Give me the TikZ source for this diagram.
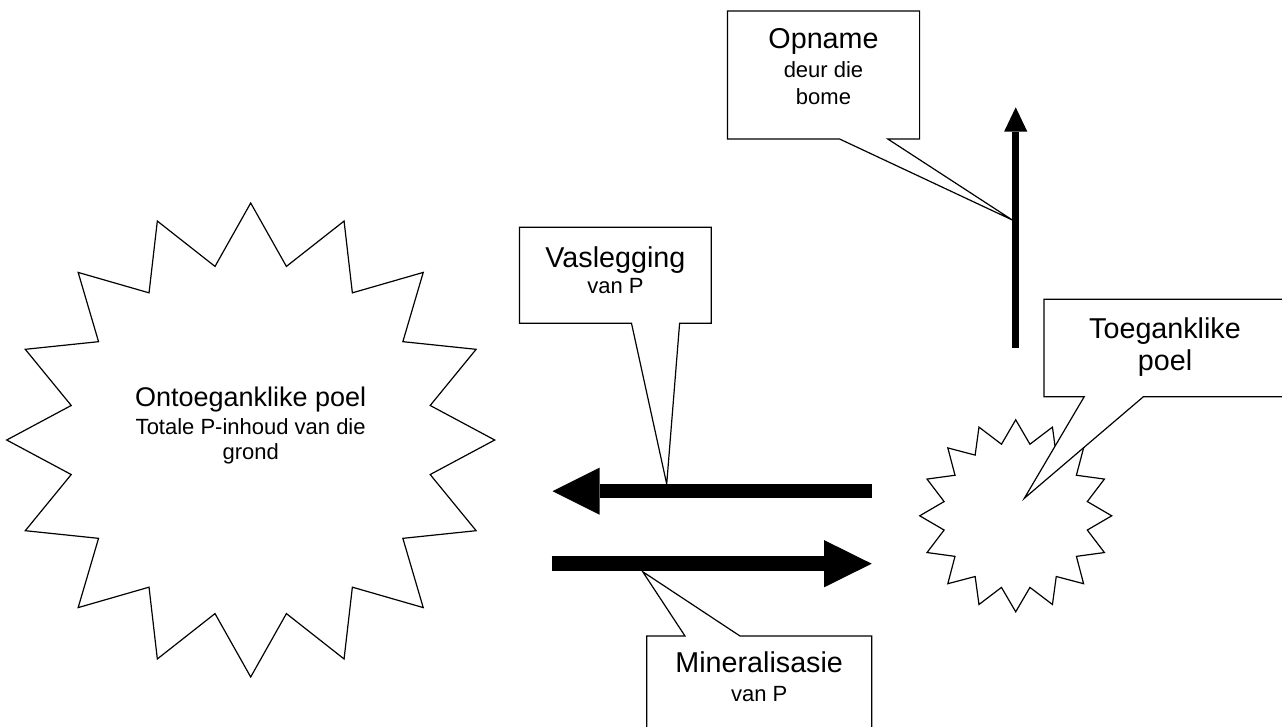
\documentclass[tikz,border=0pt]{standalone}
\usepackage{fontspec}
\setmainfont{Liberation Sans}
\usetikzlibrary{arrows.meta}
\begin{document}
\begin{tikzpicture}[x=1pt,y=-1pt,
  outline/.style={draw=black, line width=1.2pt, line join=miter, fill=white},
  callout/.style={draw=black, line width=1.2pt, line join=miter, fill=white},
  starbig/.style={anchor=base, inner sep=0pt, font=\fontsize{27}{30}\selectfont},
  bigtxt/.style={anchor=base, inner sep=0pt, font=\fontsize{28.7}{32}\selectfont},
  smalltxt/.style={anchor=base, inner sep=0pt, font=\fontsize{22}{26}\selectfont},
  blockleft/.style={line width=14.5pt, -{Triangle[length=47pt,width=47pt,line width=0pt]}},
  blockright/.style={line width=15.3pt, -{Triangle[length=47.7pt,width=47.3pt,line width=0pt]}},
  blockup/.style={line width=7.5pt, -{Triangle[length=24.4pt,width=23.3pt,line width=0pt]}},
]
\useasboundingbox (0,0) rectangle (1282,726);
\clip (0,0) rectangle (1282,726);
\fill[white] (0,0) rectangle (1282,726);

% big star (inaccessible pool)
\coordinate (bigc) at (250.7,440);
\draw[outline] (250.7,203)
  \foreach \k in {0,...,15} {
    -- ({250.7+183*sin(\k*22.5+11.25)}, {440-177*cos(\k*22.5+11.25)})
    -- ({250.7+244*sin((\k+1)*22.5)}, {440-237*cos((\k+1)*22.5)})
  } -- cycle;
\node[starbig] (ontA) at (250.7,406) {Ontoeganklike poel};
\node[smalltxt] (ontB) at (250.7,434.3) {Totale P-inhoud van die};
\node[smalltxt] (ontC) at (250.7,459) {grond};

% small star (accessible pool)
\coordinate (smc) at (1015.7,515.8);
\draw[outline] (1015.7,419.8)
  \foreach \k in {0,...,15} {
    -- ({1015.7+73*sin(\k*22.5+11.25)}, {515.8-73*cos(\k*22.5+11.25)})
    -- ({1015.7+96*sin((\k+1)*22.5)}, {515.8-96*cos((\k+1)*22.5)})
  } -- cycle;

% block arrows
\coordinate (fixS) at (871.7,491.2);
\coordinate (fixE) at (552.5,491.2);
\draw[blockleft] (fixS) -- (fixE);
\coordinate (minS) at (551.7,563.7);
\coordinate (minE) at (871.7,563.7);
\draw[blockright] (minS) -- (minE);
\coordinate (upS) at (1015.7,347.7);
\coordinate (upE) at (1015.7,107.3);
\draw[blockup] (upS) -- (upE);

% pointer tips
\coordinate (opTip) at (1012.3,220);
\coordinate (vaTip) at (666.7,484);
\coordinate (toTip) at (1024.3,498.3);
\coordinate (miTip) at (642.7,571.7);

% callout: Opname
\draw[callout] (727.4,11) -- (919.6,11) -- (919.6,139) -- (887.8,139)
  -- (opTip) -- (839.6,139) -- (727.4,139) -- cycle;
\node[bigtxt] (opA) at (823.5,48) {Opname};
\node[smalltxt] (opB) at (823.5,77) {deur die};
\node[smalltxt] (opC) at (823.5,104) {bome};

% callout: Vaslegging
\draw[callout] (519.5,227.3) -- (711.3,227.3) -- (711.3,323.3) -- (679.6,323.3)
  -- (vaTip) -- (631.5,323.3) -- (519.5,323.3) -- cycle;
\node[bigtxt] (vaA) at (615.4,267.5) {Vaslegging};
\node[smalltxt] (vaB) at (615.4,293.5) {van P};

% callout: Toeganklike poel
\draw[callout] (1044,299.3) -- (1290,299.3) -- (1290,396.7) -- (1143.4,396.7)
  -- (toTip) -- (1084.2,396.7) -- (1044,396.7) -- cycle;
\node[bigtxt] (toA) at (1165,338) {Toeganklike};
\node[bigtxt] (toB) at (1165,370) {poel};

% callout: Mineralisasie
\draw[callout] (646.7,636) -- (685,636) -- (miTip) -- (740,636) -- (871.7,636)
  -- (871.7,740) -- (646.7,740) -- cycle;
\node[bigtxt] (miA) at (759.2,672.7) {Mineralisasie};
\node[smalltxt] (miB) at (759.2,701.7) {van P};
\end{tikzpicture}
\end{document}
